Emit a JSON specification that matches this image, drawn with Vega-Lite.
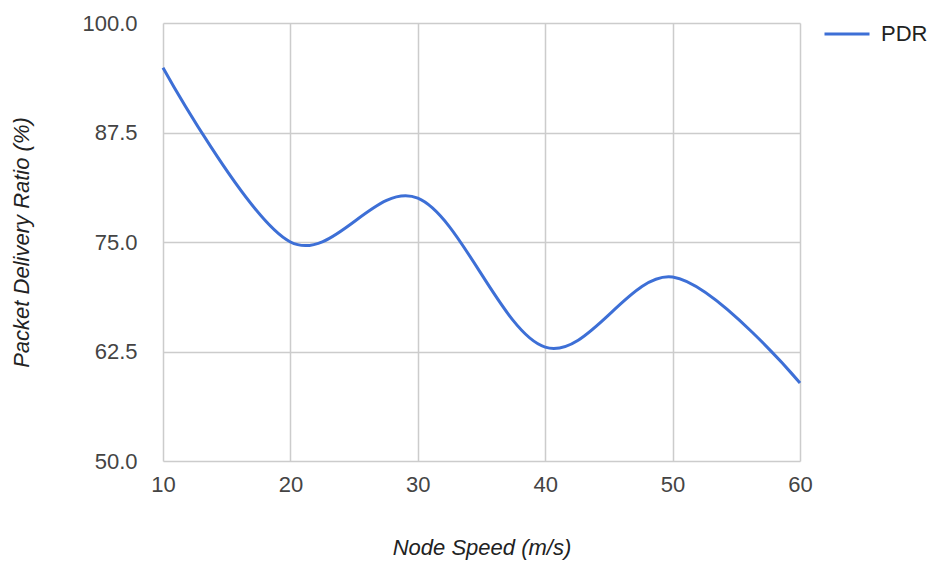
{
  "$schema": "https://vega.github.io/schema/vega-lite/v6.json",
  "width": 637,
  "height": 438,
  "autosize": {"type": "none"},
  "padding": {"left": 163, "top": 23, "right": 129, "bottom": 101},
  "background": "white",
  "config": {
    "view": {"stroke": null},
    "font": "Liberation Sans"
  },
  "data": {
    "values": [
      {"speed": 10, "pdr": 94.9, "series": "PDR"},
      {"speed": 20, "pdr": 75.0, "series": "PDR"},
      {"speed": 30, "pdr": 80.0, "series": "PDR"},
      {"speed": 40, "pdr": 63.0, "series": "PDR"},
      {"speed": 50, "pdr": 71.0, "series": "PDR"},
      {"speed": 60, "pdr": 58.9, "series": "PDR"}
    ]
  },
  "mark": {"type": "line", "interpolate": "cardinal", "strokeWidth": 3},
  "encoding": {
    "x": {
      "field": "speed",
      "type": "quantitative",
      "scale": {"domain": [10, 60], "nice": false, "zero": false},
      "axis": {
        "values": [10, 20, 30, 40, 50, 60],
        "title": "Node Speed (m/s)",
        "titleFont": "Liberation Sans",
        "titleFontStyle": "italic",
        "titleFontWeight": "normal",
        "titleFontSize": 22,
        "titleColor": "#222222",
        "titlePadding": 42,
        "labelFontSize": 22,
        "labelColor": "#444444",
        "labelPadding": 13,
        "labelFlush": false,
        "labelOverlap": false,
        "ticks": false,
        "domain": false,
        "gridColor": "#cccccc",
        "gridWidth": 1.5
      }
    },
    "y": {
      "field": "pdr",
      "type": "quantitative",
      "scale": {"domain": [50, 100], "nice": false, "zero": false},
      "axis": {
        "values": [50, 62.5, 75, 87.5, 100],
        "format": ".1f",
        "title": "Packet Delivery Ratio (%)",
        "titleFont": "Liberation Sans",
        "titleFontStyle": "italic",
        "titleFontWeight": "normal",
        "titleFontSize": 22,
        "titleColor": "#222222",
        "titlePadding": 48,
        "labelFontSize": 22,
        "labelColor": "#444444",
        "labelPadding": 26,
        "labelFlush": false,
        "labelOverlap": false,
        "ticks": false,
        "domain": false,
        "gridColor": "#cccccc",
        "gridWidth": 1.5
      }
    },
    "color": {
      "field": "series",
      "type": "nominal",
      "scale": {"range": ["#3d6fd6"]},
      "legend": {
        "title": null,
        "orient": "none",
        "legendX": 660,
        "legendY": -13,
        "symbolType": "stroke",
        "symbolSize": 2025,
        "symbolStrokeWidth": 3,
        "labelFontSize": 22,
        "labelColor": "#222222",
        "labelOffset": 10
      }
    }
  }
}
